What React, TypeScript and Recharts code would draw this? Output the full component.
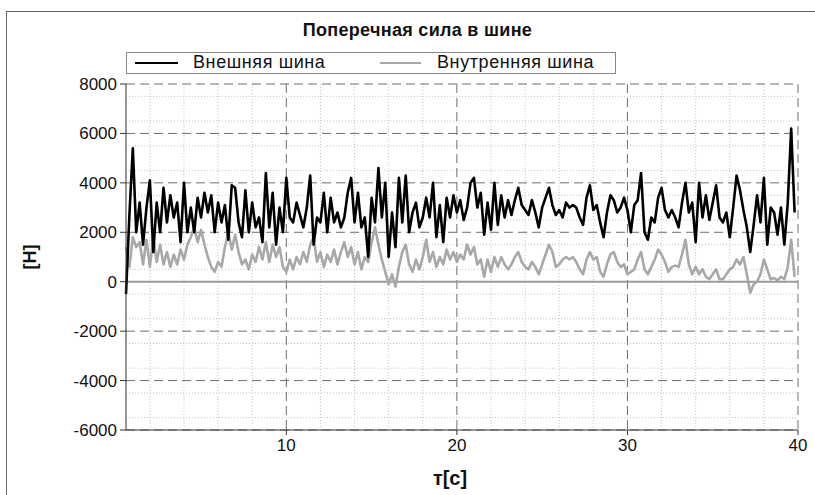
import React from 'react';
import { LineChart, Line, XAxis, YAxis, CartesianGrid } from 'recharts';

// sampled every 0.2 s starting at 0.6 s
const outerTire = [
  -500, 2700, 5400, 2000, 3200, 1500, 3000, 4100, 1200, 3200, 2000, 3800, 2400, 3500, 2600, 3200,
  1600, 4000, 2000, 3000, 2000, 3400, 2600, 3600, 2800, 3500, 2000, 3200, 2400, 3100, 1700, 3900,
  3800, 2400, 1800, 3700, 2000, 3200, 2200, 2600, 1600, 4400, 2200, 3600, 1500, 3000, 2000, 4200,
  2600, 2400, 3200, 2700, 2200, 3000, 4300, 1500, 2600, 2400, 3600, 2000, 3400, 2400, 2800, 2200,
  2600, 3600,
  4200, 2400, 3600, 2200, 2600, 1000, 3400, 2400, 4600, 2600, 4000, 1000, 2800, 1400, 4200, 2400,
  4300, 2000, 2800, 3200, 2200, 2600, 3400, 2600, 4000, 1800, 3100, 1600, 3400, 2600, 3500, 2800,
  3300,
  2500, 3000, 4000, 4200, 3000, 3600, 1900, 3200, 2100, 4000, 2300, 3500, 2600, 3300, 2700, 3300,
  3800, 3100, 2900, 2700, 3300, 2800, 2200, 3000, 3400, 3800, 3100, 2700, 2900, 2600, 3200, 3000,
  3100,
  3000, 2600, 2300, 3400, 3900, 2900, 3100, 2400, 1800, 2800, 3500, 3300, 2800, 3000, 3400, 2900,
  2000, 3100, 3300, 4400, 2000, 1700, 2600, 2400, 3400, 3800, 2900, 2600, 2900, 2600, 2200, 3200,
  4000,
  2800, 3200, 1600, 4000, 2600, 3500, 2500, 3200, 3900, 2600, 2400, 2800, 1800, 3000, 4300, 3700,
  2900, 2200, 1200, 2300, 3500, 2400, 4200, 1500, 3000, 2800, 1900, 3000, 1500, 3200, 6200, 2800,
];

const innerTire = [
  1400, 600, 1800, 1400, 1600, 700, 1700, 600, 1800, 800, 1500, 700, 1200, 600, 1100, 700,
  1300, 900, 1500, 1800, 2200, 1600, 2100, 1500, 1000, 600, 400, 800, 600, 1400, 2000, 1300,
  1900, 1200, 700, 900, 500, 1100, 800, 1400, 900, 1600, 800, 1500, 1000, 1400, 600, 400,
  900, 500, 1000, 700, 1200, 800, 1500, 1800, 800, 1200, 600, 1100, 800, 1300, 700, 1200,
  1600, 1000,
  1400, 700, 1200, 500, 1000, 800, 1600, 2200, 1500, 900, 400, -100, 300, -200, 600, 1200,
  1500, 700, 400, 900, 500, 1000, 1700, 800, 1200, 600, 1000, 700, 1300, 900, 1200, 800,
  1100,
  900, 1500, 1100, 1400, 700, 900, 200, 900, 400, 1000, 600, 1000, 700, 500, 700, 1000,
  1200, 800, 600, 500, 800, 600, 300, 700, 1100, 1500, 1200, 600, 700, 900, 1000, 900,
  1000,
  800, 500, 300, 900, 1200, 900, 1000, 400, 200, 700, 1100, 1200, 800, 600, 700, 300,
  400, 500, 900, 1200, 500, 300, 600, 900, 1300, 1100, 800, 400, 600, 650, 600, 1100,
  1700,
  700, 300, 600, 300, 500, 200, 100, 300, 500, 100, 100, 300, 500, 600, 900, 700,
  1000, 300, -450, -100, 0, 300, 900, 500, 100, 150, 50, 200, 100, 600, 1700, 200,
];

const timeS = outerTire.map((_, i) => +(0.6 + i * 0.2).toFixed(1));

const yMajor = [-6000, -4000, -2000, 0, 2000, 4000, 6000, 8000];
const yMinor = Array.from({ length: 29 }, (_, i) => -6000 + i * 500);
const xMajor = [10, 20, 30, 40];
const xMinor = Array.from({ length: 20 }, (_, i) => 2 + i * 2);

const data = timeS.map((t, i) => ({ t, outer: outerTire[i], inner: innerTire[i] }));

const FONT = '"Liberation Sans", Arial, sans-serif';

export default function App() {
  return (
    <div style={{ position: 'absolute', left: 0, top: 0, width: 815, height: 495, background: '#fff', overflow: 'hidden', fontFamily: FONT }}>
      <div style={{ position: 'absolute', left: 6, top: 11, width: 830, height: 520, border: '1px solid #666' }} />
      <LineChart width={815} height={495} data={data} margin={{ top: 84, right: 17, bottom: 25, left: 60 }}>
        <CartesianGrid
          horizontalValues={yMinor.filter((v) => v % 2000 !== 0)}
          verticalValues={xMinor.filter((v) => v % 10 !== 0)}
          stroke="#c4c4c4"
          strokeDasharray="1 2"
        />
        <CartesianGrid
          horizontalValues={yMajor.filter((v) => v !== 0)}
          verticalValues={xMajor}
          stroke="#6e6e6e"
          strokeDasharray="9 5"
        />
        <CartesianGrid horizontalValues={[0]} vertical={false} stroke="#9a9a9a" strokeWidth={2} />
        <XAxis
          xAxisId="minor"
          dataKey="t"
          type="number"
          domain={[0.6, 40]}
          ticks={xMinor}
          mirror
          height={0}
          tick={false}
          axisLine={false}
          tickSize={6}
          tickLine={{ stroke: '#333' }}
        />
        <XAxis
          dataKey="t"
          type="number"
          domain={[0.6, 40]}
          ticks={xMajor}
          height={40}
          tickSize={5}
          tickMargin={4}
          axisLine={{ stroke: '#333' }}
          tickLine={{ stroke: '#333' }}
          tick={{ fill: '#111', fontSize: 17, fontFamily: FONT }}
        />
        <YAxis
          yAxisId="minor"
          type="number"
          domain={[-6000, 8000]}
          ticks={yMinor}
          mirror
          width={0}
          tick={false}
          axisLine={false}
          tickSize={6}
          tickLine={{ stroke: '#333' }}
        />
        <YAxis
          type="number"
          domain={[-6000, 8000]}
          ticks={yMajor}
          width={66}
          tickSize={6}
          tickMargin={3}
          axisLine={{ stroke: '#333' }}
          tickLine={{ stroke: '#333' }}
          tick={{ fill: '#111', fontSize: 17, fontFamily: FONT }}
        />
        <Line dataKey="inner" stroke="#a8a8a8" strokeWidth={2.6} strokeLinejoin="round" dot={false} isAnimationActive={false} />
        <Line dataKey="outer" stroke="#000" strokeWidth={2.6} strokeLinejoin="round" dot={false} isAnimationActive={false} />
      </LineChart>
      <div style={{ position: 'absolute', left: 0, width: 815, top: 20, textAlign: 'center', paddingLeft: 10, fontWeight: 'bold', fontSize: 18, letterSpacing: 0.3, color: '#111' }}>
        Поперечная сила в шине
      </div>
      <div style={{ position: 'absolute', left: 126, top: 52, width: 488, height: 20, border: '1px solid #888', background: '#fff' }}>
        <div style={{ position: 'absolute', left: 8, top: 9, width: 43, height: 2, background: '#000' }} />
        <div style={{ position: 'absolute', left: 66, top: -1, fontSize: 18, letterSpacing: 0.6, color: '#111' }}>Внешняя шина</div>
        <div style={{ position: 'absolute', left: 253, top: 9, width: 41, height: 2, background: '#a8a8a8' }} />
        <div style={{ position: 'absolute', left: 310, top: -1, fontSize: 18, letterSpacing: 0.6, color: '#111' }}>Внутренняя шина</div>
      </div>
      <div style={{ position: 'absolute', left: 30, top: 257, transform: 'translate(-50%, -50%) rotate(-90deg)', fontWeight: 'bold', fontSize: 18, color: '#111' }}>
        [Н]
      </div>
      <div style={{ position: 'absolute', left: 450, top: 478, transform: 'translate(-50%, -50%)', fontWeight: 'bold', fontSize: 20, color: '#111' }}>
        т[с]
      </div>
    </div>
  );
}
